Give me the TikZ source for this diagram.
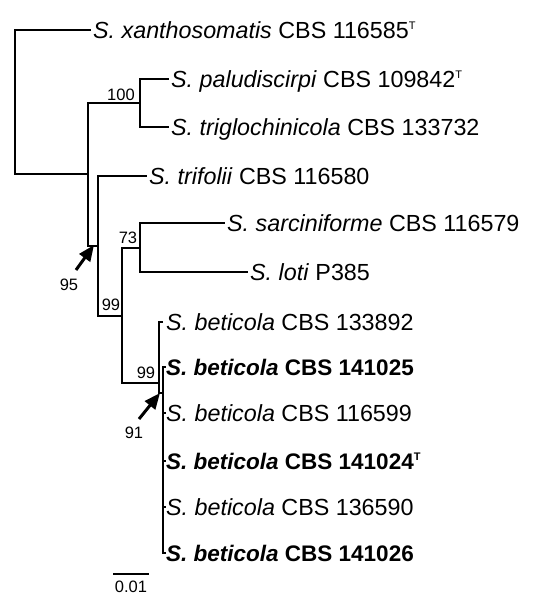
\documentclass[tikz,border=0pt]{standalone}
\usepackage{fontspec}
\setmainfont{Liberation Sans}
\usetikzlibrary{arrows.meta}
\newcommand{\typeT}{{\fontsize{11}{11}\selectfont\raisebox{8.6pt}{T}}}
\begin{document}
\begin{tikzpicture}[x=1pt,y=-1pt,
  branch/.style={line width=1.2pt},
  taxon/.style={anchor=base west, inner sep=0pt, font=\fontsize{23.3}{27}\selectfont},
  boldtaxon/.style={taxon, font=\fontsize{22.5}{27}\selectfont\bfseries},
  support/.style={inner sep=0pt, font=\fontsize{16.5}{18}\selectfont},
  pointer/.style={line width=3pt, -{Triangle[length=16pt,width=13pt]}}]
\useasboundingbox (0,0) rectangle (539,595);

% internal nodes (x, stem y)
\coordinate (R) at (15,100);
\coordinate (A) at (88,174);
\coordinate (P) at (140,103);
\coordinate (B) at (98,246);
\coordinate (Q) at (122,316);
\coordinate (N73) at (140,248);
\coordinate (C) at (159,383);
\coordinate (D) at (163,393);

% tips
\coordinate (txan) at (91,30);
\coordinate (tpal) at (169,79);
\coordinate (ttri) at (169,127);
\coordinate (ttrf) at (147,176);
\coordinate (tsar) at (225,223);
\coordinate (tlot) at (248,272);
\coordinate (tb1) at (163,322);
\coordinate (tb2) at (166,367);
\coordinate (tb3) at (166,413);
\coordinate (tb4) at (166,461);
\coordinate (tb5) at (166,507);
\coordinate (tb6) at (166,553);

% branches
\draw[branch] (R) |- (txan);
\draw[branch] (R) |- (A);
\draw[branch] (A) |- (P);
\draw[branch] (A) |- (B);
\draw[branch] (P) |- (tpal);
\draw[branch] (P) |- (ttri);
\draw[branch] (B) |- (ttrf);
\draw[branch] (B) |- (Q);
\draw[branch] (Q) |- (N73);
\draw[branch] (Q) |- (C);
\draw[branch] (N73) |- (tsar);
\draw[branch] (N73) |- (tlot);
\draw[branch] (C) |- (tb1);
\draw[branch] (C) |- (D);
\draw[branch] (D) |- (tb2);
\draw[branch] (D) |- (tb3);
\draw[branch] (D) |- (tb4);
\draw[branch] (D) |- (tb5);
\draw[branch] (D) |- (tb6);

% taxon labels
\node[taxon] (lxan) at (93,38) {\textit{S. xanthosomatis} CBS 116585\typeT};
\node[taxon] (lpal) at (171,87) {\textit{S. paludiscirpi} CBS 109842\typeT};
\node[taxon] (ltri) at (171,135) {\textit{S. triglochinicola} CBS 133732};
\node[taxon] (ltrf) at (149,184) {\textit{S. trifolii} CBS 116580};
\node[taxon] (lsar) at (227,231) {\textit{S. sarciniforme} CBS 116579};
\node[taxon] (llot) at (250,280) {\textit{S. loti} P385};
\node[taxon] (lb1) at (166,330) {\textit{S. beticola} CBS 133892};
\node[boldtaxon] (lb2) at (166,375) {\textit{S. beticola} CBS 141025};
\node[taxon] (lb3) at (166,421) {\textit{S. beticola} CBS 116599};
\node[boldtaxon] (lb4) at (166,469) {\textit{S. beticola} CBS 141024\typeT};
\node[taxon] (lb5) at (166,515) {\textit{S. beticola} CBS 136590};
\node[boldtaxon] (lb6) at (166,561) {\textit{S. beticola} CBS 141026};

% support values
\node[support] (s100) at (121,95) {100};
\node[support] (s73) at (128,238) {73};
\node[support] (s99a) at (111,305) {99};
\node[support] (s99b) at (146,373) {99};
\node[support] (s95) at (69,285) {95};
\node[support] (s91) at (134,433) {91};

% arrows
\coordinate (a95tail) at (76,270);
\coordinate (a95tip) at (94,245);
\coordinate (a91tail) at (139,419);
\coordinate (a91tip) at (160,393);
\draw[pointer] (a95tail) -- (a95tip);
\draw[pointer] (a91tail) -- (a91tip);

% scale bar
\coordinate (sb1) at (113,574);
\coordinate (sb2) at (149,574);
\draw[branch] (sb1) -- (sb2);
\node[support, anchor=north] (sbl) at (131,581) {0.01};
\end{tikzpicture}
\end{document}
